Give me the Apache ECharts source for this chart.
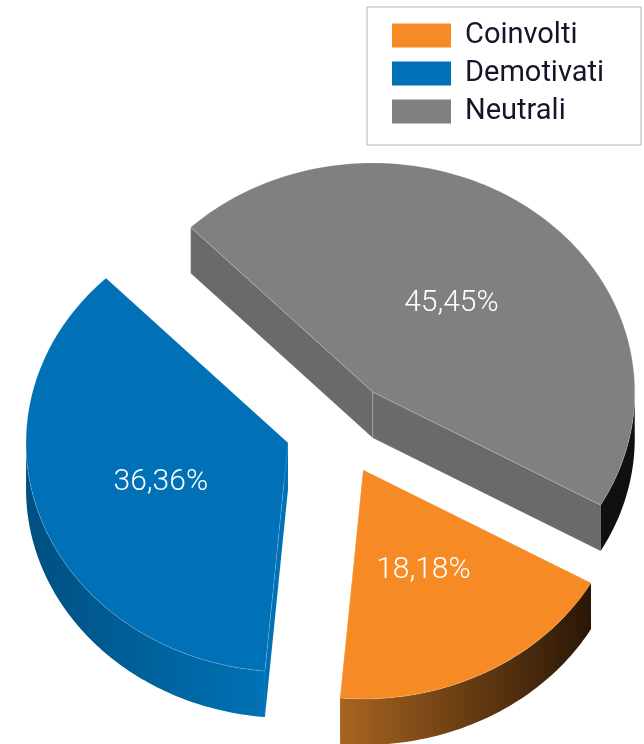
<!DOCTYPE html>
<html>
<head>
<meta charset="utf-8">
<style>html,body{margin:0;padding:0;background:#fff}#chart{width:644px;height:744px}</style>
<script src="https://cdn.jsdelivr.net/npm/echarts@6/dist/echarts.min.js"></script>
</head>
<body>
<div id="chart"></div>
<script>
// Survey shares, in percent
const categories = ['Coinvolti', 'Demotivati', 'Neutrali'];
const shares = [18.18, 36.36, 45.45];

// Per-slice colours
const topColors = ['#f68b26', '#0071b6', '#808080'];
const cutColors = ['#f68b26', '#0071b6', '#6a6a6a'];
const rimStops = [
  ['#a8641f', '#2a1606'],
  ['#004f80', '#0072b6'],
  ['#101010', '#101010']
];

// Projection of the tilted pie: ellipse radii, wall height and centre
const RX = 262, RY = 229, DEPTH = 46;
const CX = 339.4, CY = 427.8;
const START_DEG = 29.6;
const EXPLODE_X = 0.208, EXPLODE_Y = 0.198;

// Small per-slice corrections: apex shift, and label distance as a fraction of the radius
const apexShiftX = [-1.5, 0, 0];
const apexShiftY = [2, 0, 0];
const labelRadius = [0.495, 0.515, 0.49];

const total = shares.reduce((a, b) => a + b, 0);
const toRad = d => d * Math.PI / 180;

function sliceSpan(i) {
  let from = START_DEG;
  for (let k = 0; k < i; k++) from += shares[k] / total * 360;
  return [from, from + shares[i] / total * 360];
}

function renderSlice(params, api) {
  const i = params.seriesIndex;
  const value = api.value(0);
  const [a0, a1] = sliceSpan(i);
  const mid = toRad((a0 + a1) / 2);
  const ox = CX + EXPLODE_X * RX * Math.cos(mid) + apexShiftX[i];
  const oy = CY + EXPLODE_Y * RY * Math.sin(mid) + apexShiftY[i];
  const at = (deg, dy) => [ox + RX * Math.cos(toRad(deg)), oy + RY * Math.sin(toRad(deg)) + (dy || 0)];

  const arc = [];
  for (let d = a0; d < a1; d += 1) arc.push(d);
  arc.push(a1);

  const edge = 'rgba(255,255,255,0.18)';
  const children = [];

  // radial cut faces
  [a0, a1].forEach(deg => {
    const p = at(deg), q = at(deg, DEPTH);
    children.push({
      type: 'polygon',
      shape: { points: [[ox, oy], p, q, [ox, oy + DEPTH]] },
      style: { fill: cutColors[i], stroke: i === 2 ? edge : null, lineWidth: 1 }
    });
  });

  // outer rim on the front half of the ellipse
  const front = [];
  arc.forEach(d => {
    const n = ((d % 360) + 360) % 360;
    if (n <= 180) front.push(d);
  });
  if (front.length > 1) {
    const upper = front.map(d => at(d));
    const lower = front.map(d => at(d, DEPTH)).reverse();
    const xs = upper.map(p => p[0]);
    children.push({
      type: 'polygon',
      shape: { points: upper.concat(lower) },
      style: {
        fill: {
          type: 'linear', global: true,
          x: Math.min.apply(null, xs), y: 0, x2: Math.max.apply(null, xs), y2: 0,
          colorStops: [
            { offset: 0, color: rimStops[i][0] },
            { offset: 1, color: rimStops[i][1] }
          ]
        }
      }
    });
  }

  // top surface
  children.push({
    type: 'polygon',
    shape: { points: [[ox, oy]].concat(arc.map(d => at(d))) },
    style: { fill: topColors[i], stroke: edge, lineWidth: 1 }
  });

  // percentage label inside the slice
  children.push({
    type: 'text',
    style: {
      x: ox + labelRadius[i] * RX * Math.cos(mid),
      y: oy + labelRadius[i] * RY * Math.sin(mid),
      text: value.toFixed(2).replace('.', ',') + '%',
      fill: '#ffffff',
      font: '300 30px Roboto',
      align: 'center',
      verticalAlign: 'middle'
    }
  });

  return { type: 'group', children: children };
}

const chart = echarts.init(document.getElementById('chart'), null, { renderer: 'canvas' });
chart.setOption({
  animation: false,
  backgroundColor: '#ffffff',
  legend: {
    data: categories,
    orient: 'vertical',
    left: 367,
    top: 7,
    padding: [14, 37, 19, 25],
    itemWidth: 59,
    itemHeight: 24,
    itemGap: 9,
    icon: 'rect',
    selectedMode: false,
    borderColor: '#b4b4b4',
    borderWidth: 1,
    textStyle: { fontFamily: 'Roboto', fontSize: 29, lineHeight: 24, color: '#15152a', padding: [0, 0, 0, 9] }
  },
  series: categories.map((name, i) => ({
    type: 'custom',
    name: name,
    coordinateSystem: 'none',
    itemStyle: { color: topColors[i] },
    renderItem: renderSlice,
    data: [[shares[i]]]
  }))
});
</script>
</body>
</html>
